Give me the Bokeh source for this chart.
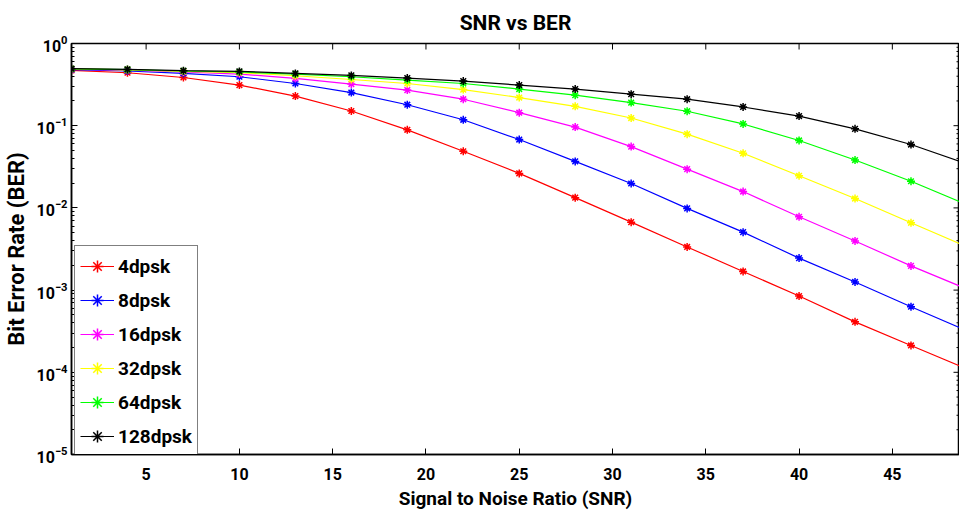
import math
from bokeh.plotting import figure
from bokeh.models import Range1d, Legend, LegendItem, FixedTicker
from bokeh.embed import file_html
from bokeh.resources import INLINE

snr = [1, 4, 7, 10, 13, 16, 19, 22, 25, 28, 31, 34, 37, 40, 43, 46, 49]

ber_4dpsk = [0.471, 0.441, 0.386, 0.312, 0.229, 0.151, 0.0891, 0.0489, 0.0263, 0.01333,
             0.00671, 0.00335, 0.001687, 0.000847, 0.000411, 0.000212, 0.000110]
ber_8dpsk = [0.480, 0.463, 0.433, 0.394, 0.326, 0.253, 0.180, 0.118, 0.0679, 0.0368,
             0.0198, 0.00986, 0.00507, 0.00245, 0.001257, 0.000628, 0.000320]
ber_16dpsk = [0.487, 0.473, 0.450, 0.425, 0.376, 0.321, 0.271, 0.210, 0.144, 0.0961,
              0.0557, 0.0296, 0.0158, 0.00780, 0.00396, 0.00197, 0.00103]
ber_32dpsk = [0.490, 0.478, 0.458, 0.441, 0.405, 0.365, 0.326, 0.275, 0.220, 0.172,
              0.124, 0.0789, 0.0462, 0.0246, 0.0130, 0.00659, 0.00336]
ber_64dpsk = [0.491, 0.480, 0.463, 0.450, 0.425, 0.394, 0.359, 0.326, 0.279, 0.235,
              0.191, 0.150, 0.105, 0.0661, 0.0382, 0.0211, 0.0109]
ber_128dpsk = [0.494, 0.484, 0.467, 0.458, 0.433, 0.409, 0.380, 0.349, 0.312, 0.279,
               0.242, 0.210, 0.169, 0.131, 0.0916, 0.0590, 0.0342]

series_names = ["4dpsk", "8dpsk", "16dpsk", "32dpsk", "64dpsk", "128dpsk"]
series_values = [ber_4dpsk, ber_8dpsk, ber_16dpsk, ber_32dpsk, ber_64dpsk, ber_128dpsk]
series_colors = ["#ff0000", "#0000ff", "#ff00ff", "#ffff00", "#00ff00", "#000000"]

x_ticks = [5, 10, 15, 20, 25, 30, 35, 40, 45]
y_ticks = [1e-5, 1e-4, 1e-3, 1e-2, 1e-1, 1e0]
y_minor = [m * 10.0 ** e for e in range(-5, 0) for m in range(2, 10)]

X_MIN, X_MAX = 1, 48.6
Y_MIN, Y_MAX = 1e-5, 1

FONT = "Roboto"

p = figure(width=959, height=514, y_axis_type="log",
           x_range=Range1d(X_MIN, X_MAX), y_range=Range1d(Y_MIN, Y_MAX),
           output_backend="svg", toolbar_location=None,
           min_border_left=66, min_border_right=0, min_border_top=39, min_border_bottom=60)

p.title.text = "SNR vs BER"
p.title.align = "center"
p.title.text_font = FONT
p.title.text_font_size = "21px"
p.title.text_font_style = "bold"
p.title.text_color = "black"
p.title.offset = 0
p.title.standoff = 17

p.grid.visible = False
p.outline_line_color = "black"
p.outline_line_width = 1.5
p.background_fill_color = "white"
p.border_fill_color = "white"

xa = p.xaxis[0]
xa.ticker = FixedTicker(ticks=x_ticks)
xa.axis_label = "Signal to Noise Ratio (SNR)"
ya = p.yaxis[0]
ya.ticker = FixedTicker(ticks=y_ticks, minor_ticks=y_minor)
ya.axis_label = "Bit Error Rate (BER)"

for ax in (xa, ya):
    ax.axis_label_text_font = FONT
    ax.axis_label_text_font_style = "bold"
    ax.axis_label_text_color = "black"
    ax.major_label_text_font = FONT
    ax.major_label_text_font_size = "16px"
    ax.major_label_text_font_style = "bold"
    ax.major_label_text_color = "black"
    ax.major_tick_in = 6
    ax.major_tick_out = 0
    ax.minor_tick_in = 3
    ax.minor_tick_out = 0
    ax.axis_line_color = "black"
    ax.axis_line_width = 1.5
xa.minor_tick_line_color = None
xa.axis_label_text_font_size = "19px"
xa.major_label_standoff = 13
xa.axis_label_standoff = 4
ya.axis_label_text_font_size = "22px"
ya.major_label_standoff = 4
ya.axis_label_standoff = 5

# box ticks on the top and right edges (half of each dash is clipped by the frame)
p.scatter(x_ticks, [Y_MAX] * len(x_ticks), marker="dash", angle=math.pi / 2, size=12,
          line_color="black", line_width=1)
p.scatter([X_MAX] * len(y_ticks), y_ticks, marker="dash", size=12,
          line_color="black", line_width=1)
p.scatter([X_MAX] * len(y_minor), y_minor, marker="dash", size=6,
          line_color="black", line_width=1)

renderers = []
for name, vals, col in zip(series_names, series_values, series_colors):
    ln = p.line(snr, vals, line_color=col, line_width=1.2)
    mk = p.scatter(snr, vals, marker="asterisk", size=8, line_color=col, line_width=1.5)
    renderers.append((name, [ln, mk]))

legend = Legend(items=[LegendItem(label=n, renderers=r) for n, r in renderers],
                location=(3, -3), orientation="vertical")
legend.label_text_font = FONT
legend.label_text_font_size = "19px"
legend.label_text_font_style = "bold"
legend.label_text_color = "black"
legend.glyph_width = 34
legend.glyph_height = 30
legend.label_height = 30
legend.spacing = 4
legend.padding = 5
legend.margin = 0
legend.label_standoff = 4
legend.border_line_color = "black"
legend.border_line_width = 1.2
legend.background_fill_alpha = 1
p.add_layout(legend, "center")

open("out.html", "w").write(file_html(p, INLINE))
